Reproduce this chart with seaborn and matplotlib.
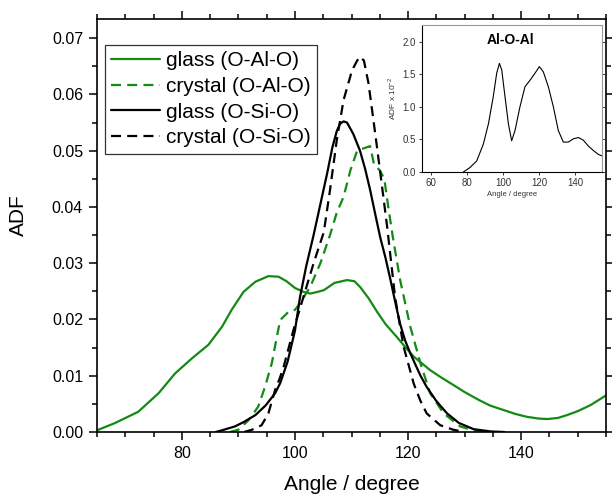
import matplotlib
matplotlib.use("Agg")
import matplotlib.pyplot as plt
import seaborn as sns
from matplotlib.ticker import MultipleLocator, FormatStrFormatter

# angle (degree) and ADF values
glass_alo_x = [65, 68.2, 72.3, 75.9, 78.8, 81.8, 84.7, 87.1, 88.8, 90.9, 93.0, 95.3,
               97.1, 98.5, 100.0, 101.5, 102.7, 104.0, 105.1, 107.0, 109.2, 110.5,
               111.5, 113.0, 114.5, 116.0, 118.0, 119.5, 121.0, 123.9, 126.0, 128.1,
               130.0, 132.5, 134.5, 136.9, 139.0, 141.0, 143.0, 144.6, 146.5, 148.1,
               150.0, 152.3, 155.0]
glass_alo_y = [0.0003, 0.0016, 0.0036, 0.0069, 0.0104, 0.0131, 0.0155, 0.0187, 0.0217,
               0.0249, 0.0267, 0.0277, 0.0276, 0.0268, 0.0256, 0.0249, 0.0246, 0.0249,
               0.0252, 0.0265, 0.0270, 0.0268, 0.0258, 0.0238, 0.0214, 0.0192, 0.0169,
               0.0151, 0.0134, 0.0110, 0.0096, 0.0083, 0.0071, 0.0057, 0.0047, 0.0039,
               0.0032, 0.0027, 0.0024, 0.0023, 0.0025, 0.0030, 0.0037, 0.0048, 0.0065]

crystal_alo_x = [88.5, 90.0, 91.8, 93.5, 94.7, 95.9, 96.8, 97.4, 98.9, 100.0, 100.9,
                 102.7, 104.5, 106.2, 107.4, 108.6, 109.8, 111.0, 112.4, 113.3, 114.0,
                 115.0, 115.8, 116.5, 117.3, 118.6, 120.4, 122.2, 123.9, 126.3, 129.2,
                 131.5, 134.0]
crystal_alo_y = [0.0, 0.0004, 0.0021, 0.0045, 0.0080, 0.0122, 0.0169, 0.0199, 0.0214,
                 0.0217, 0.0229, 0.0258, 0.0300, 0.0350, 0.0390, 0.0418, 0.0465, 0.0500,
                 0.0505, 0.0508, 0.0475, 0.0465, 0.0450, 0.0400, 0.0347, 0.0270, 0.0187,
                 0.0122, 0.0069, 0.0033, 0.0010, 0.0003, 0.0]

glass_osio_x = [86.0, 87.1, 89.4, 91.0, 93.0, 94.8, 96.5, 97.4, 98.7, 100.0, 100.9,
                102.0, 103.3, 104.5, 105.7, 106.6, 107.4, 108.0, 108.6, 109.2, 110.3,
                111.5, 112.4, 113.3, 114.2, 115.1, 116.0, 116.9, 117.8, 118.6, 119.5,
                120.4, 121.2, 122.2, 123.3, 125.0, 126.9, 129.0, 131.6, 134.6, 137.0]
glass_osio_y = [0.0, 0.0003, 0.0010, 0.0018, 0.0030, 0.0047, 0.0069, 0.0087, 0.0125,
                0.0180, 0.0240, 0.0295, 0.0350, 0.0405, 0.0460, 0.0505, 0.0535, 0.0548,
                0.0552, 0.0550, 0.0530, 0.0500, 0.0468, 0.0430, 0.0387, 0.0345, 0.0310,
                0.0270, 0.0228, 0.0192, 0.0162, 0.0140, 0.0122, 0.0100, 0.0080, 0.0055,
                0.0033, 0.0016, 0.0005, 0.0001, 0.0]

crystal_osio_x = [91.0, 92.4, 94.1, 95.3, 96.5, 97.3, 98.0, 99.7, 101.5, 103.3, 105.1,
                  106.2, 107.4, 108.6, 110.1, 111.0, 111.5, 112.2, 113.0, 114.2, 115.1,
                  116.3, 117.7, 119.2, 121.0, 122.2, 123.3, 125.7, 128.0, 130.0]
crystal_osio_y = [0.0, 0.0004, 0.0012, 0.0033, 0.0075, 0.0095, 0.0116, 0.0180, 0.0240,
                  0.0300, 0.0355, 0.0430, 0.0519, 0.0590, 0.0643, 0.0660, 0.0667, 0.0660,
                  0.0620, 0.0530, 0.0460, 0.0365, 0.0240, 0.0152, 0.0086, 0.0055, 0.0033,
                  0.0012, 0.0004, 0.0]

# inset: Al-O-Al, ADF x 10^-2
aloal_x = [78, 81.7, 85.4, 89.1, 91.9, 94.6, 96.5, 98, 99.3, 101.1, 103, 104.8, 106.7,
           109.4, 112.2, 115, 117.8, 120.2, 122.4, 125.2, 128, 130.7, 133.5, 136.3,
           139.1, 141.9, 144.6, 147.4, 150.2, 153, 154.8]
aloal_y = [0, 0.07, 0.17, 0.43, 0.74, 1.16, 1.52, 1.67, 1.57, 1.16, 0.74, 0.48, 0.64,
           1.0, 1.31, 1.41, 1.52, 1.62, 1.54, 1.31, 1.0, 0.64, 0.46, 0.46, 0.51, 0.53,
           0.49, 0.40, 0.33, 0.27, 0.25]

GREEN = "#138a13"

sns.set_style("ticks")
plt.rcParams["font.family"] = ["Liberation Sans", "DejaVu Sans"]
plt.rcParams["mathtext.fontset"] = "custom"
plt.rcParams["mathtext.rm"] = "Liberation Sans"
plt.rcParams["text.color"] = "black"
plt.rcParams["axes.labelcolor"] = "black"

fig = plt.figure(figsize=(6.12, 4.94), dpi=100)
ax = fig.add_axes([97 / 612, 1 - 432 / 494, 509 / 612, 413 / 494])

series = [
    (glass_alo_x, glass_alo_y, GREEN, "-", "glass (O-Al-O)"),
    (crystal_alo_x, crystal_alo_y, GREEN, "--", "crystal (O-Al-O)"),
    (glass_osio_x, glass_osio_y, "black", "-", "glass (O-Si-O)"),
    (crystal_osio_x, crystal_osio_y, "black", "--", "crystal (O-Si-O)"),
]
for xs, ys, col, ls, lab in series:
    sns.lineplot(x=xs, y=ys, ax=ax, color=col, linestyle=ls, linewidth=1.6,
                 label=lab, sort=False)
for line in ax.lines:
    if line.get_linestyle() == "--":
        line.set_dashes((4.5, 2.8))

ax.set_xlim(65, 155)
ax.set_ylim(0, 0.0734)
ax.xaxis.set_major_locator(MultipleLocator(20))
ax.xaxis.set_minor_locator(MultipleLocator(5))
ax.yaxis.set_major_locator(MultipleLocator(0.01))
ax.yaxis.set_minor_locator(MultipleLocator(0.005))
ax.yaxis.set_major_formatter(FormatStrFormatter("%.2f"))
ax.tick_params(which="both", direction="out", top=True, right=True, width=1.1,
               labelsize=11.5, color="black", labelcolor="black")
ax.tick_params(which="major", length=6, pad=4)
ax.tick_params(which="minor", length=3.5)
for sp in ax.spines.values():
    sp.set_linewidth(1.2)
    sp.set_color("black")
ax.set_xlabel("Angle / degree", fontsize=15)
ax.set_ylabel("ADF", fontsize=15)
ax.xaxis.set_label_coords(0.5, -0.105)
ax.yaxis.set_label_coords(-0.136, 0.525)

leg = ax.legend(loc="upper left", bbox_to_anchor=(0.0157, 0.937), fontsize=15,
                frameon=True, fancybox=False, edgecolor="black", handlelength=2.35,
                handletextpad=0.29, borderpad=0.3, labelspacing=0.32,
                borderaxespad=0)
leg.get_frame().set_linewidth(0.9)

# inset
ins = fig.add_axes([422 / 612, 1 - 172 / 494, 180 / 612, 147 / 494])
sns.lineplot(x=aloal_x, y=aloal_y, ax=ins, color="black", linewidth=0.8, sort=False)
ins.set_xlim(55, 155)
ins.set_ylim(0, 2.26)
ins.xaxis.set_major_locator(MultipleLocator(20))
ins.yaxis.set_major_locator(MultipleLocator(0.5))
ins.yaxis.set_major_formatter(FormatStrFormatter("%.1f"))
ins.tick_params(direction="out", labelsize=7, length=2.5, width=0.7,
                colors="#333333", pad=2)
ins.tick_params(axis="y", right=True, direction="out")
for side in ["left", "bottom"]:
    ins.spines[side].set_linewidth(0.8)
    ins.spines[side].set_color("black")
for side in ["top", "right"]:
    ins.spines[side].set_color("#999999")
    ins.spines[side].set_linewidth(0.8)
ins.set_xlabel("Angle / degree", fontsize=5.5, labelpad=2, color="#333333")
ins.set_ylabel("ADF x 10$^{-2}$", fontsize=6, labelpad=3, color="#333333")
ins.text(0.49, 0.9, "Al-O-Al", transform=ins.transAxes, ha="center", va="center",
         fontsize=10, fontweight="bold")

fig.savefig("out.png", dpi=100)
